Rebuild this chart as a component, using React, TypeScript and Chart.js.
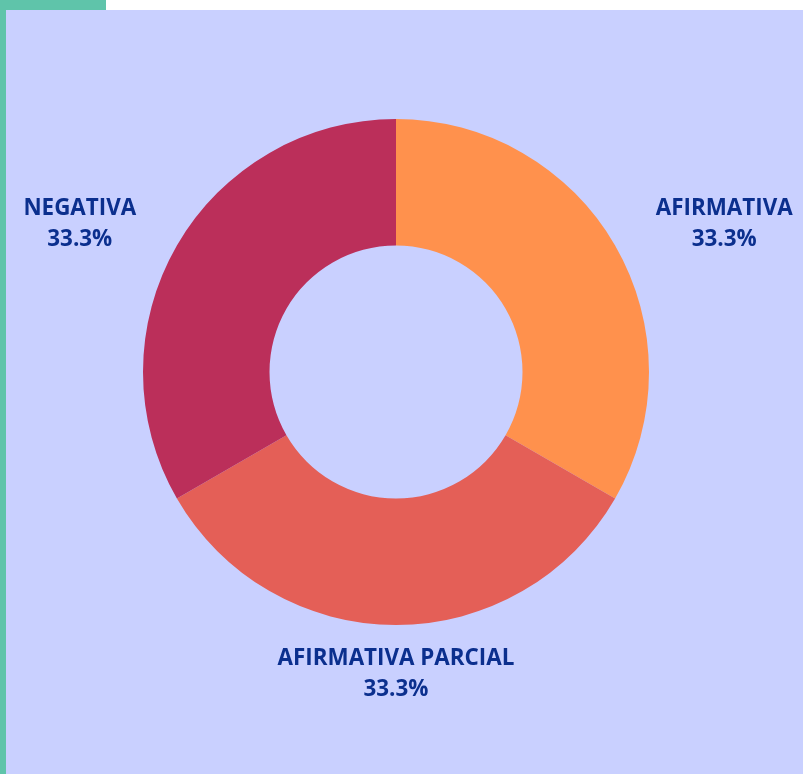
import React, { useEffect, useRef } from "react";
import { Chart, registerables } from "chart.js";

Chart.register(...registerables);

const categories = ["AFIRMATIVA", "AFIRMATIVA PARCIAL", "NEGATIVA"];
const values = [33.3, 33.3, 33.3];
const percentLabels = ["33.3%", "33.3%", "33.3%"];
const sliceColors = ["#FF914D", "#E45F57", "#BB2F5A"];

const labelPlugin = {
  id: "outerLabels",
  afterDatasetsDraw(chart: any) {
    const ctx = chart.ctx;
    const meta = chart.getDatasetMeta(0);
    ctx.save();
    ctx.font = "bold 22.4px 'Open Sans'";
    ctx.fillStyle = "#0B2F8E";
    ctx.textBaseline = "middle";
    meta.data.forEach((arc: any, i: number) => {
      const mid = (arc.startAngle + arc.endAngle) / 2;
      const r = arc.outerRadius + 47;
      const x = arc.x + Math.cos(mid) * r;
      const y = arc.y + Math.sin(mid) * r + 2;
      const lines = [categories[i], percentLabels[i]];
      const w = Math.max(...lines.map((l) => ctx.measureText(l).width));
      let cx = x;
      const c = Math.cos(mid);
      if (c > 0.1) cx = x + w / 2;
      else if (c < -0.1) cx = x - w / 2;
      ctx.textAlign = "center";
      const lh = 31;
      lines.forEach((l, k) => {
        ctx.fillText(l, cx, y + (k - (lines.length - 1) / 2) * lh);
      });
    });
    ctx.restore();
  },
};

export default function App() {
  const ref = useRef<HTMLCanvasElement | null>(null);
  useEffect(() => {
    document.body.style.margin = "0";
    const chart = new Chart(ref.current!, {
      type: "doughnut",
      data: {
        labels: categories,
        datasets: [
          {
            data: values,
            backgroundColor: sliceColors,
            borderWidth: 0,
          },
        ],
      },
      options: {
        animation: false,
        responsive: false,
        cutout: "50%",
        layout: { padding: { top: 109, bottom: 149, left: 137, right: 154 } },
        plugins: { legend: { display: false }, tooltip: { enabled: false } },
      },
      plugins: [labelPlugin],
    });
    return () => chart.destroy();
  }, []);
  return (
    <div style={{ position: "absolute", left: 0, top: 0, width: 803, height: 774, background: "#FFFFFF" }}>
      <div style={{ position: "absolute", left: 0, top: 0, width: 106, height: 10, background: "#5FC4AA" }} />
      <div style={{ position: "absolute", left: 0, top: 0, width: 6, height: 774, background: "#5FC4AA" }} />
      <div style={{ position: "absolute", left: 6, top: 10, width: 797, height: 764, background: "#C9D0FF" }}>
        <canvas ref={ref} width={797} height={764} style={{ display: "block" }} />
      </div>
    </div>
  );
}
